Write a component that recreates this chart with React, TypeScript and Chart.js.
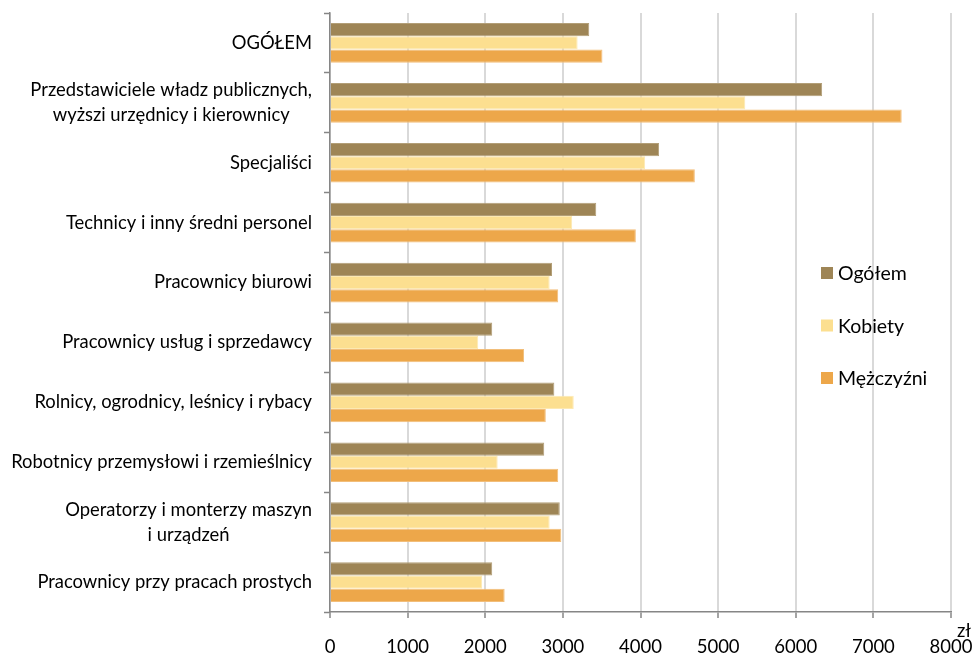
import React, { useEffect, useRef } from "react";
import { Chart, registerables } from "chart.js";

Chart.register(...registerables);

const categories: (string | string[])[] = [
  "OGÓŁEM",
  ["Przedstawiciele władz publicznych,", "wyższi urzędnicy i kierownicy"],
  "Specjaliści",
  "Technicy i inny średni personel",
  "Pracownicy biurowi",
  "Pracownicy usług i sprzedawcy",
  "Rolnicy, ogrodnicy, leśnicy i rybacy",
  "Robotnicy przemysłowi i rzemieślnicy",
  ["Operatorzy i monterzy maszyn", "i urządzeń"],
  "Pracownicy przy pracach prostych",
];

const seriesNames = ["Ogółem", "Kobiety", "Mężczyźni"];
const ogolem = [3340, 6340, 4240, 3430, 2860, 2090, 2890, 2760, 2960, 2090];
const kobiety = [3190, 5350, 4060, 3120, 2830, 1910, 3140, 2160, 2830, 1960];
const mezczyzni = [3510, 7365, 4700, 3940, 2940, 2500, 2780, 2940, 2980, 2250];
const seriesColors = ["#9E8556", "#FCDF90", "#EDA74A"];
const seriesBorders = ["#B39F78", "#FDE9B2", "#F2BE7A"];

const xTickMax = 8000;
const xTickStep = 1000;
const unitLabel = "zł";

const FONT = "Lato, 'Liberation Sans', sans-serif";

const customDraw = {
  id: "customDraw",
  afterDraw(chart: any) {
    const ctx = chart.ctx;
    const yScale = chart.scales.y;
    const xScale = chart.scales.x;
    ctx.save();
    // Y category labels: block right-aligned, lines centered within block
    ctx.fillStyle = "#000000";
    ctx.font = `18.4px ${FONT}`;
    ctx.textBaseline = "middle";
    ctx.textAlign = "center";
    const xRight = yScale.right - 18;
    const lineH = 25;
    categories.forEach((cat, i) => {
      const lines = Array.isArray(cat) ? cat : [cat];
      const w = Math.max(...lines.map((l) => ctx.measureText(l).width));
      const cx = xRight - w / 2;
      const cy = yScale.getPixelForValue(i);
      const y0 = cy - ((lines.length - 1) * lineH) / 2;
      lines.forEach((l, j) => ctx.fillText(l, cx, y0 + j * lineH));
    });

    // unit label
    ctx.font = `18.5px ${FONT}`;
    ctx.textAlign = "center";
    ctx.fillText(unitLabel, xScale.right + 13, xScale.top + 19);

    // legend
    const lx = 821;
    const ly = 273;
    const step = 52.5;
    ctx.textAlign = "left";
    ctx.font = `19.5px ${FONT}`;
    chart.data.datasets.forEach((ds: any, i: number) => {
      const y = ly + i * step;
      ctx.fillStyle = ds.backgroundColor;
      ctx.fillRect(lx, y - 6, 12, 12);
      ctx.fillStyle = "#000000";
      ctx.fillText(ds.label, lx + 17, y + 1);
    });
    ctx.restore();
  },
};

export default function App() {
  const ref = useRef<HTMLCanvasElement | null>(null);
  useEffect(() => {
    document.body.style.margin = "0";
    if (!ref.current) return;
    const values = [ogolem, kobiety, mezczyzni];
    const chart = new Chart(ref.current, {
      type: "bar",
      data: {
        labels: categories as any,
        datasets: seriesNames.map((name, i) => ({
          label: name,
          data: values[i],
          backgroundColor: seriesColors[i],
          borderColor: seriesBorders[i],
          borderWidth: 1,
          categoryPercentage: 0.663,
          barPercentage: 1,
        })),
      },
      options: {
        indexAxis: "y",
        responsive: false,
        animation: false,
        layout: { padding: { left: 0, top: 13, right: 24, bottom: 0 } },
        plugins: {
          legend: { display: false },
          tooltip: { enabled: false },
        },
        scales: {
          x: {
            min: 0,
            max: xTickMax,
            ticks: {
              stepSize: xTickStep,
              color: "#000000",
              font: { family: FONT, size: 18.5 },
              padding: 18,
              maxRotation: 0,
              callback: (v: any) => String(v),
            },
            grid: {
              color: "#D9D9D9",
              lineWidth: 2,
              tickColor: "#868686",
              tickLength: 6,
              tickWidth: 1.5,
            },
            border: { color: "#868686", width: 1.5 },
            afterFit: (s: any) => {
              s.height = 44;
              s.paddingLeft = 0;
              s.paddingRight = 0;
            },
          },
          y: {
            ticks: { display: false },
            grid: {
              offset: true,
              drawOnChartArea: false,
              tickColor: "#868686",
              tickLength: 6,
              tickWidth: 1.5,
            },
            border: { color: "#868686", width: 1.5 },
            afterFit: (s: any) => {
              s.width = 330;
              s.paddingTop = 0;
              s.paddingBottom = 0;
            },
          },
        },
      },
      plugins: [customDraw],
    });
    return () => chart.destroy();
  }, []);
  return (
    <div style={{ width: 975, height: 656 }}>
      <canvas ref={ref} width={975} height={656} style={{ display: "block" }} />
    </div>
  );
}
